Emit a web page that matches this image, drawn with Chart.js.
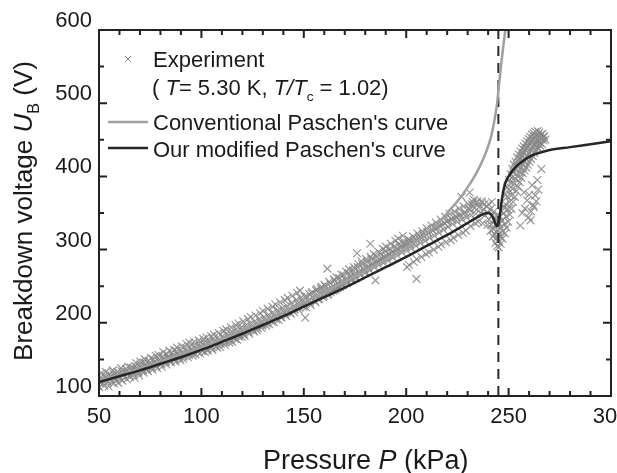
<!DOCTYPE html>
<html>
<head>
<meta charset="utf-8">
<script src="https://cdn.jsdelivr.net/npm/chart.js@4.4.0/dist/chart.umd.min.js"></script>
<style>
html, body { margin: 0; padding: 0; background: #fff; overflow: hidden; }
#wrap { position: relative; width: 640px; height: 473px; }
</style>
</head>
<body>
<div id="wrap"><canvas id="chart"></canvas></div>
<script>
// Values
const xTicks = [50, 100, 150, 200, 250, 300];
const yTicks = [100, 200, 300, 400, 500, 600];
const criticalP = 245; // dashed vertical line (kPa)

// Experiment, T = 5.30 K : [P (kPa), U_B (V)]
const experiment = [
  [50.5,118],[51,126],[51.8,121],[52.5,114],[53,128],[53.6,123],[54.2,119],[55,130],[55.5,124],[56.3,120],[57,131],[57.8,126],[58.4,122],[59,133],[59.7,127],
  [60.4,124],[61,134],[61.8,130],[62.5,126],[63.2,137],[64,131],[64.8,128],[65.5,139],[66.2,134],[67,129],[67.8,141],[68.5,136],[69.2,132],[69.9,143],
  [70.6,139],[71.3,135],[72,146],[72.8,141],[73.5,137],[74.2,148],[75,143],[75.8,139],[76.5,150],[77.2,145],[78,141],[78.8,152],[79.5,147],
  [80.3,144],[81,154],[81.8,150],[82.5,146],[83.3,157],[84,152],[84.8,148],[85.5,159],[86.3,154],[87,150],[87.8,161],[88.5,156],[89.3,152],
  [90,163],[90.8,158],[91.5,154],[92.3,165],[93,160],[93.8,156],[94.5,167],[95.3,162],[96,158],[96.8,169],[97.5,164],[98.3,160],[99,171],[99.8,166],
  [100.5,162],[101.3,173],[102,168],[102.8,164],[103.5,175],[104.3,170],[105,166],[105.8,178],[106.5,173],[107.3,168],[108,180],[108.8,175],[109.5,171],
  [110.3,182],[111,178],[111.8,173],[112.5,185],[113.3,180],[114,176],[114.8,188],[115.5,183],[116.3,178],[117,191],[117.8,186],[118.5,181],[119.3,193],
  [120,188],[120.8,184],[121.5,196],[122.3,191],[123,187],[123.8,199],[124.5,194],[125.3,190],[126,202],[126.8,197],[127.5,193],[128.3,205],[129,200],[129.8,196],
  [130.5,208],[131.3,203],[132,199],[132.8,211],[133.5,206],[134.3,202],[135,214],[135.8,209],[136.5,205],[137.3,217],[138,212],[138.8,208],[139.5,220],
  [140.3,215],[141,211],[141.8,223],[142.5,218],[143.3,214],[144,227],[144.8,222],[145.5,218],[146.3,231],[147,226],[147.8,221],[148.5,234],[149.3,229],
  [150,225],[150.7,207],[151.5,236],[152.3,231],[153,227],[153.8,240],[154.5,235],[155.3,230],[156,244],[156.8,238],[157.5,233],[158.3,247],[159,242],[159.8,237],
  [160.5,250],[161.3,245],[161.5,274],[162,240],[162.8,254],[163.5,248],[164.3,244],[165,258],[165.8,252],[166.5,247],[167.3,261],[168,256],[168.8,251],[169.5,265],
  [170.3,259],[171,254],[171.8,268],[172.5,263],[173.3,258],[174,272],[174.8,267],[175.5,261],[176,295],[176.3,276],[177,270],[177.8,265],[178.5,280],[179.3,274],
  [180,268],[180.8,283],[181.5,277],[182.3,272],[182.5,308],[183,287],[183.8,281],[184.5,276],[185,258],[185.3,291],[186,285],[186.8,279],[187.5,294],[188.3,288],[189,282],[189.8,298],
  [190.5,291],[191.3,285],[192,301],[192.8,295],[193.5,289],[194.3,305],[195,298],[195.8,292],[196.5,308],[197.3,302],[198,296],[198.8,311],[199.5,305],
  [200.3,299],[200.4,276],[201,314],[201.8,308],[202.5,302],[203.3,318],[204,311],[204.8,305],[205,260],[205.5,322],[206.3,315],[207,309],[207.8,325],[208.5,318],[209.3,312],
  [210,329],[210.8,322],[211.5,316],[212.3,333],[213,326],[213.8,319],[214.5,337],[215.3,330],[216,323],[216.8,341],[217.5,334],[218.3,327],[219,345],[219.8,338],
  [220.5,331],[221.3,349],[222,342],[222.8,335],[223.5,352],[224.3,345],[225,338],[225.8,356],[226.5,348],[227.3,341],[228,359],[228.8,351],[229.5,344],
  [227,372],[231,378],[233,368],
  [230.3,362],[231,354],[231.8,347],[232.5,365],[233.3,357],[234,349],[234.8,366],[235.5,358],[236.3,350],[237,364],[237.8,355],[238.5,347],[239.3,359],[240,350],
  [240.5,341],[241,355],[241.5,334],[242,347],[242.5,328],[243,340],[243.3,321],[243.8,334],[244.2,316],[244.6,327],[245,312],[245.3,322],[245.6,335],[246,318],[246.3,330],
  [246.8,340],[247.2,325],[247.5,350],[248,335],[248.4,362],[248.8,345],[249.2,372],[249.6,355],[250,382],[250.4,365],[250.8,392],[251.2,374],[251.6,398],[252,383],
  [252.4,405],[252.8,390],[253.2,410],[253.6,396],[254,415],[254.4,401],[254.8,420],[255.2,406],[255.6,424],[256,411],[256.4,428],[256.8,416],[257.2,432],[257.6,420],
  [258,436],[258.4,424],[258.8,439],[259.2,428],[259.6,442],[260,432],[260.4,446],[260.8,436],[261.2,449],[261.6,440],[262,452],[262.4,443],[262.8,455],[263.2,446],
  [263.6,450],[264,444],[264.4,456],[264.8,448],[265.2,453],[265.6,446],[266,451],[266.5,458],[267,449],[265,460],
  [255.7,333],[256.6,350],[259.7,344],[260.7,340],[262,361],[262.3,358],[263,374],[261.5,388],[259,367],[264.5,382],[257.5,378],
  // second sweep
  [50.2,112],[51.2,131],[52,117],[53.3,133],[54.7,113],[55.9,127],[56.8,135],[57.3,117],[58.9,129],[59.4,118],[60.8,138],[61.4,121],[62.9,133],[63.6,123],
  [64.3,140],[65.1,126],[66.7,138],[67.4,125],[68.1,145],[69.6,128],[70.2,147],[71.8,132],[72.4,150],[73.9,134],[74.6,140],[75.4,152],[76.1,136],[77.7,155],
  [78.4,138],[79.1,156],[80.7,140],[81.4,160],[82.9,143],[83.7,151],[84.4,162],[85.1,146],[86.7,163],[87.4,147],[88.1,166],[89.7,149],[90.4,168],[91.1,151],
  [92.7,171],[93.4,153],[94.1,173],[95.7,155],[96.4,174],[97.1,157],[98.7,176],[99.4,158],
  [100.9,178],[101.7,160],[102.4,180],[103.1,162],[104.7,182],[105.4,163],[106.1,184],[107.7,166],[108.4,186],[109.1,167],[110.7,189],[111.4,170],[112.1,191],
  [113.7,173],[114.4,194],[115.1,174],[116.7,197],[117.4,177],[118.1,199],[119.7,181],[120.4,202],[121.1,182],[122.7,205],[123.4,185],[124.1,208],[125.7,188],
  [126.4,210],[127.1,190],[128.7,213],[129.4,193],[130.1,216],[131.7,196],[132.4,219],[133.1,198],[134.7,222],[135.4,201],[136.1,225],[137.7,204],[138.4,228],
  [139.1,207],[140.7,231],[141.4,209],[142.1,234],[143.7,212],[144.4,237],[145.1,215],[146.7,241],[147.4,218],[148.1,244],[149.7,222],
  [150.4,236],[151.1,221],[152.7,239],[153.4,224],[154.1,242],[155.7,228],[156.4,246],[157.1,232],[158.7,249],[159.4,235],[160.1,252],[161.7,238],[162.4,256],
  [163.1,242],[164.7,259],[165.4,245],[166.1,262],[167.7,249],[168.4,266],[169.1,252],[170.7,270],[171.4,256],[172.1,273],[173.7,260],[174.4,276],[175.1,263],
  [176.7,280],[177.4,267],[178.1,284],[179.7,271],[180.4,287],[181.1,275],[182.7,290],[183.4,279],[184.1,294],[185.7,283],[186.4,297],[187.1,286],[188.7,301],
  [189.4,290],[190.1,304],[191.7,294],[192.4,308],[193.1,297],[194.7,312],[195.4,301],[196.1,315],[197.7,305],[198.4,319],[199.1,308],
  [200.7,309],[201.4,279],[202.1,312],[203.7,283],[204.4,315],[205.1,287],[206.7,318],[207.4,290],[208.1,321],[209.7,294],[210.4,324],[211.1,296],[212.7,327],
  [213.4,300],[214.1,330],[215.7,304],[216.4,333],[217.1,307],[218.7,336],[219.4,310],[220.1,339],[221.7,313],[222.4,341],[223.1,316],[224.7,344],[225.4,320],
  [226.1,347],[227.7,323],[228.4,350],[229.1,326],[230.7,356],[231.4,332],[232.1,362],[233.7,336],[234.4,364],[235.1,338],[236.7,366],[237.4,336],[238.1,362],[239.7,334],
  [240.2,362],[241.3,326],[241.8,365],[242.3,318],[242.8,352],[243.5,309],[244,346],[244.4,305],[244.8,338],[245.2,303],[245.8,345],[246.1,308],[246.6,352],
  [247,315],[247.8,358],[248.2,322],[248.6,375],[249,330],[249.4,385],[249.8,338],[250.2,395],[250.6,348],[251,403],[251.4,356],[251.8,410],[252.2,365],
  [252.6,416],[253,372],[253.4,420],[253.8,380],[254.2,426],[254.6,386],[255,430],[255.4,392],[255.8,434],[256.2,398],[256.6,438],[257,404],[257.4,441],
  [257.8,408],[258.2,445],[258.6,412],[259,448],[259.4,416],[259.8,451],[260.2,420],[260.6,454],[261,424],[261.4,457],[261.8,428],[262.2,459],[262.6,432],
  [263,461],[263.4,436],[263.8,440],[264.2,462],[264.6,438],[265.4,442],[265.8,457],[266.3,444],[266.8,453],[267.3,455],[268,450],
  [258,356],[260,375],[263.5,366],[261,352],[264,395],[266,410]
];

// Conventional Paschen's curve
const conventional = [
  [50,121],[60,129],[70,138],[80,147],[90,157],[100,167],[110,178],[120,190],[130,202],[140,215],[150,228],
  [160,242],[170,256],[180,271],[190,286],[200,302],[205,311],[210,322],[215,334],[220,350],[225,366],[230,385],
  [234,403],[237,420],[239.5,437],[241.5,455],[243,475],[244.4,500],[245.5,530],[246.5,556],[247.5,580],[248.4,600],[249,615]
];

// Our modified Paschen's curve
const modified = [
  [50,119],[60,127],[70,135],[80,144],[90,153],[100,163],[110,174],[120,185],[130,197],[140,209],[150,222],
  [160,235],[170,248],[180,262],[190,276],[200,290],[210,305],[220,320],[228,333],[234,343],[238,349],[240,350],
  [241.5,348],[242.7,342],[243.6,335],[244.4,332],[245,335],[245.8,348],[246.6,366],[247.5,381],[248.5,392],
  [250,400],[252.5,410],[256,419],[261,428],[266,433],[270,436],[280,440],[290,444],[300,448]
];

const FAMILY = "'Liberation Sans', Arial, sans-serif";
const INK = '#1a1a1a';
const toXY = arr => arr.map(([x, y]) => ({ x, y }));

// rich text: parts = [{t, it, sub}]
function drawRich(ctx, x, y, parts, size) {
  let cx = x;
  for (const p of parts) {
    const fs = p.sub ? size * 0.62 : size;
    ctx.font = (p.it ? 'italic ' : '') + fs + 'px ' + FAMILY;
    ctx.fillText(p.t, cx, p.sub ? y + size * 0.25 : y);
    cx += ctx.measureText(p.t).width;
  }
  return cx - x;
}
function richWidth(ctx, parts, size) {
  let w = 0;
  for (const p of parts) {
    ctx.font = (p.it ? 'italic ' : '') + (p.sub ? size * 0.62 : size) + 'px ' + FAMILY;
    w += ctx.measureText(p.t).width;
  }
  return w;
}

const framePlugin = {
  id: 'frame',
  afterDatasetsDraw(chart) {
    const { ctx, chartArea: a, scales: { x, y } } = chart;
    ctx.save();
    ctx.strokeStyle = '#222';
    ctx.lineWidth = 2;
    ctx.strokeRect(a.left, a.top, a.right - a.left, a.bottom - a.top);
    ctx.beginPath();
    for (let v = x.min; v <= x.max; v += 10) {
      const px = x.getPixelForValue(v);
      const len = v % 50 === 0 ? 8 : 5;
      ctx.moveTo(px, a.bottom); ctx.lineTo(px, a.bottom - len);
      ctx.moveTo(px, a.top); ctx.lineTo(px, a.top + len);
    }
    for (let v = y.min; v <= y.max; v += 50) {
      const py = y.getPixelForValue(v);
      const len = v % 100 === 0 ? 8 : 5;
      ctx.moveTo(a.left, py); ctx.lineTo(a.left + len, py);
      ctx.moveTo(a.right, py); ctx.lineTo(a.right - len, py);
    }
    ctx.stroke();
    ctx.restore();
  },
  afterDraw(chart) {
    const { ctx, chartArea: a } = chart;
    ctx.save();
    ctx.fillStyle = INK;
    ctx.textBaseline = 'alphabetic';

    // axis titles
    drawRich(ctx, 263, 469, [{ t: 'Pressure ' }, { t: 'P', it: true }, { t: ' (kPa)' }], 27);
    const yParts = [{ t: 'Breakdown voltage ' }, { t: 'U', it: true }, { t: 'B', sub: true }, { t: ' (V)' }];
    const yw = richWidth(ctx, yParts, 26);
    ctx.save();
    ctx.translate(32, (a.top + a.bottom) / 2 - 2);
    ctx.rotate(-Math.PI / 2);
    drawRich(ctx, -yw / 2, 0, yParts, 26);
    ctx.restore();

    // legend
    const lx = 153, fs = 22;
    ctx.strokeStyle = '#8c8c8c';
    ctx.lineWidth = 1;
    ctx.beginPath();
    ctx.moveTo(125, 56); ctx.lineTo(131, 62);
    ctx.moveTo(131, 56); ctx.lineTo(125, 62);
    ctx.stroke();
    drawRich(ctx, lx, 67, [{ t: 'Experiment' }], fs);
    drawRich(ctx, lx - 1, 95, [
      { t: '( ' }, { t: 'T', it: true }, { t: '= 5.30 K, ' }, { t: 'T/', it: true },
      { t: 'T', it: true }, { t: 'c', sub: true }, { t: ' = 1.02)' }
    ], fs);
    ctx.lineWidth = 2.5;
    ctx.strokeStyle = '#a0a0a0';
    ctx.beginPath(); ctx.moveTo(108, 122); ctx.lineTo(148, 122); ctx.stroke();
    drawRich(ctx, lx, 130, [{ t: "Conventional Paschen's curve" }], fs);
    ctx.strokeStyle = '#262626';
    ctx.beginPath(); ctx.moveTo(108, 148); ctx.lineTo(148, 148); ctx.stroke();
    drawRich(ctx, lx, 157, [{ t: "Our modified Paschen's curve" }], fs);
    ctx.restore();
  }
};

new Chart(document.getElementById('chart'), {
  type: 'scatter',
  data: {
    datasets: [
      {
        label: "Our modified Paschen's curve",
        data: toXY(modified),
        showLine: true,
        borderColor: '#262626',
        borderWidth: 2.5,
        pointRadius: 0,
        cubicInterpolationMode: 'monotone'
      },
      {
        label: "Conventional Paschen's curve",
        data: toXY(conventional),
        showLine: true,
        borderColor: '#a0a0a0',
        borderWidth: 2.5,
        pointRadius: 0,
        cubicInterpolationMode: 'monotone'
      },
      {
        label: 'critical',
        data: [{ x: criticalP, y: 100 }, { x: criticalP, y: 600 }],
        showLine: true,
        borderColor: '#2a2a2a',
        borderWidth: 2,
        borderDash: [10, 7],
        pointRadius: 0
      },
      {
        label: 'Experiment',
        data: toXY(experiment),
        pointStyle: 'crossRot',
        pointRadius: 5.5,
        pointBorderWidth: 1.2,
        pointBorderColor: 'rgba(135,135,135,0.85)',
        pointBackgroundColor: 'rgba(0,0,0,0)'
      }
    ]
  },
  options: {
    responsive: true,
    maintainAspectRatio: false,
    animation: false,
    events: [],
    layout: { padding: { top: 30, right: 29, left: 0, bottom: 0 } },
    plugins: { legend: { display: false }, tooltip: { enabled: false } },
    scales: {
      x: {
        type: 'linear',
        min: 50, max: 300,
        afterBuildTicks: s => { s.ticks = xTicks.map(v => ({ value: v })); },
        afterFit: s => { s.height = 77; },
        grid: { display: false, drawTicks: false },
        border: { display: false },
        ticks: { font: { family: FAMILY, size: 22 }, color: INK, padding: 8, maxRotation: 0, autoSkip: false }
      },
      y: {
        type: 'linear',
        min: 100, max: 600,
        afterBuildTicks: s => { s.ticks = yTicks.map(v => ({ value: v })); },
        afterFit: s => { s.width = 99; },
        grid: { display: false, drawTicks: false },
        border: { display: false },
        ticks: { font: { family: FAMILY, size: 22 }, color: INK, padding: 7, labelOffset: -9 }
      }
    }
  },
  plugins: [framePlugin]
});
</script>
</body>
</html>
